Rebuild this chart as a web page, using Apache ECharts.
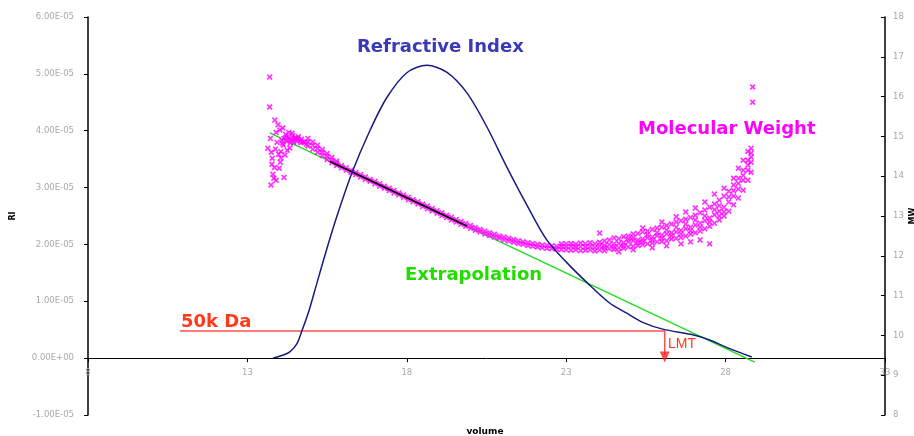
<!DOCTYPE html>
<html>
<head>
<meta charset="utf-8">
<script src="https://cdn.jsdelivr.net/npm/echarts@6/dist/echarts.min.js"></script>
<style>
  html, body { margin: 0; padding: 0; background: #fff; }
  #chart { width: 914px; height: 436px; }
</style>
</head>
<body>
<div id="chart"></div>
<script>
// refractive index trace, RI in units of 1e-5
const riVolume = [13.80, 14.11, 14.33, 14.55, 14.71, 14.93, 15.18, 15.49, 15.81, 16.28, 16.84,
  17.37, 18.00, 18.63, 19.25, 19.88, 20.51, 21.13, 21.76, 22.39, 23.02, 23.67, 24.36, 24.90,
  25.40, 26.03, 26.97, 27.50, 28.03, 28.82];
const riValues = [0, 0.05, 0.11, 0.25, 0.48, 0.83, 1.32, 1.92, 2.50, 3.26, 4.00,
  4.58, 5.02, 5.15, 5.03, 4.67, 4.07, 3.37, 2.70, 2.08, 1.68, 1.32, 0.97, 0.79,
  0.63, 0.51, 0.41, 0.32, 0.19, 0.02];

// molecular weight points: [volume, weight, weight, ...]
const mwRows = [
  [13.64, 14.70], [13.70, 16.49, 15.74], [13.72, 14.95], [13.75, 14.60], [13.77, 14.30],
  [13.74, 13.78], [13.78, 14.45], [13.80, 14.05], [13.83, 13.95], [13.85, 14.22],
  [13.86, 15.41], [13.90, 15.10, 13.90], [13.93, 14.85], [13.96, 15.29], [13.98, 14.55],
  [14.00, 14.20], [14.02, 15.16], [14.05, 14.46, 14.62], [14.08, 14.90], [14.11, 15.21],
  [14.13, 14.78], [14.15, 14.95, 13.97], [14.18, 14.53], [14.20, 15.05], [14.23, 14.88],
  [14.25, 14.65], [14.27, 14.96], [14.30, 15.10], [14.33, 14.71], [14.36, 14.92],
  [14.39, 14.91], [14.42, 15.02], [14.45, 14.85], [14.48, 14.95], [14.52, 14.96],
  [14.55, 14.88], [14.60, 14.99], [14.65, 14.90], [14.70, 14.93], [14.75, 14.86],
  [14.80, 14.86], [14.85, 14.80], [14.10, 14.82], [14.22, 14.98], [14.35, 14.83],
  [14.40, 15.08], [14.58, 14.94], [14.68, 14.84], [13.88, 14.68], [14.03, 14.35],
  [14.90, 14.86, 14.76, 14.95], [15.05, 14.78, 14.68, 14.86], [15.20, 14.70, 14.60, 14.78],
  [15.35, 14.60, 14.52, 14.67], [15.50, 14.50, 14.42, 14.57], [15.65, 14.40, 14.34, 14.47],
  [15.80, 14.33, 14.27, 14.38], [15.95, 14.27, 14.21], [16.10, 14.21, 14.15],
  [16.25, 14.15, 14.10], [16.40, 14.09, 14.04], [16.55, 14.04, 13.98], [16.70, 13.98, 13.92],
  [16.85, 13.92, 13.87], [17.00, 13.87, 13.81], [17.15, 13.81, 13.75], [17.30, 13.75, 13.70],
  [17.45, 13.70, 13.64], [17.60, 13.64, 13.58], [17.75, 13.58, 13.53], [17.90, 13.53, 13.47],
  [18.05, 13.47, 13.41], [18.20, 13.41, 13.36], [18.35, 13.36, 13.30], [18.50, 13.30, 13.24],
  [18.65, 13.25, 13.18], [18.80, 13.19, 13.13], [18.95, 13.13, 13.07], [19.10, 13.08, 13.01],
  [19.25, 13.02, 12.96], [19.40, 12.97, 12.90], [19.55, 12.91, 12.85], [19.70, 12.86, 12.79],
  [19.85, 12.81, 12.74], [20.00, 12.76, 12.69], [20.15, 12.71, 12.64], [20.30, 12.66, 12.60],
  [20.45, 12.62, 12.55], [20.60, 12.58, 12.51], [20.75, 12.54, 12.47], [20.90, 12.50, 12.44],
  [21.05, 12.47, 12.40], [21.20, 12.44, 12.37], [21.35, 12.41, 12.34], [21.50, 12.38, 12.31],
  [21.65, 12.35, 12.29], [21.80, 12.33, 12.26], [21.95, 12.31, 12.24], [22.10, 12.29, 12.22],
  [22.25, 12.27, 12.20], [22.40, 12.26, 12.19], [22.55, 12.25, 12.18], [22.70, 12.24, 12.17],
  [22.85, 12.24, 12.16, 12.30], [23.00, 12.23, 12.15, 12.30], [23.15, 12.24, 12.14, 12.31],
  [23.30, 12.22, 12.15, 12.29], [23.45, 12.23, 12.13, 12.32], [23.60, 12.22, 12.14, 12.30],
  [23.75, 12.24, 12.15, 12.33], [23.90, 12.21, 12.12, 12.30], [24.05, 12.25, 12.15, 12.34, 12.57],
  [24.20, 12.26, 12.13, 12.37, 12.20], [24.35, 12.28, 12.18, 12.40], [24.50, 12.30, 12.16, 12.45, 12.23],
  [24.65, 12.31, 12.20, 12.43, 12.10], [24.80, 12.33, 12.19, 12.48, 12.26], [24.95, 12.35, 12.22, 12.50, 12.42],
  [25.10, 12.38, 12.24, 12.55, 12.15, 12.46], [25.25, 12.40, 12.26, 12.56, 12.33], [25.40, 12.42, 12.28, 12.60, 12.70, 12.35],
  [25.55, 12.45, 12.30, 12.62, 12.53], [25.70, 12.47, 12.32, 12.66, 12.20, 12.40], [25.85, 12.50, 12.35, 12.70, 12.58],
  [26.00, 12.52, 12.36, 12.72, 12.85, 12.44], [26.15, 12.55, 12.38, 12.76, 12.25, 12.65], [26.30, 12.58, 12.42, 12.80, 12.50],
  [26.45, 12.60, 12.44, 12.85, 12.98, 12.72], [26.60, 12.64, 12.46, 12.88, 12.30, 12.55], [26.75, 12.68, 12.50, 12.92, 13.10, 12.80],
  [26.90, 12.72, 12.54, 12.96, 12.35, 12.63], [27.05, 12.77, 12.58, 13.02, 13.20, 12.90], [27.20, 12.82, 12.62, 13.08, 12.40, 12.72],
  [27.35, 12.88, 12.68, 13.15, 13.35, 13.00], [27.50, 12.95, 12.74, 13.22, 12.30, 12.85], [27.65, 13.03, 12.82, 13.30, 13.55, 13.16],
  [27.80, 13.12, 12.90, 13.40, 13.00, 13.26], [27.95, 13.22, 13.00, 13.50, 13.70, 13.10], [28.10, 13.35, 13.12, 13.62, 13.48],
  [28.25, 13.50, 13.28, 13.78, 13.95, 13.64], [28.40, 13.68, 13.45, 13.95, 14.20, 13.82], [28.55, 13.90, 13.65, 14.15, 14.40, 14.02],
  [28.70, 14.15, 13.90, 14.40, 14.62, 14.28], [28.80, 14.35, 14.10, 14.58, 14.70, 14.48], [28.85, 15.86, 16.24]
];

// fitted line and its extrapolation (right axis)
const fitVolume = [15.59, 19.88];
const fitWeight = [14.37, 12.75];
const extraVolume = [13.70, 28.91];
const extraWeight = [15.09, 9.33];

// 50k Da cut-off marker
const cutVolume = [10.88, 26.09, 26.09];
const cutWeight = [10.11, 10.11, 9.52];
const arrowPoint = [26.09, 9.46];

const xTicks = { min: 8, max: 33, step: 5 };
const riTicks = { min: -1, max: 6, step: 1 };
const mwTicks = { min: 8, max: 18, step: 1 };

const mwPoints = [];
mwRows.forEach(function (row) {
  for (let i = 1; i < row.length; i++) mwPoints.push([row[0], row[i]]);
});
const zip = (a, b) => a.map((v, i) => [v, b[i]]);

const crossSymbol = 'path://M0,2L2,0L5,3L8,0L10,2L7,5L10,8L8,10L5,7L2,10L0,8L3,5Z';
const tickGrey = '#a8a8a8';
const labelFont = 'DejaVu Sans, sans-serif';
const noteFont = 'bold 18px DejaVu Sans, sans-serif';

function riLabel(v) {
  if (Math.abs(v) < 1e-9) return '0.00E+00';
  return v.toFixed(2) + 'E-05';
}

const chart = echarts.init(document.getElementById('chart'));
// zero of the RI axis sits 1/7 of the plot height above the bottom
const plotTop = 17, plotBottom = 21, plotHeight = 436 - plotTop - plotBottom;
const zeroLift = plotHeight * (0 - riTicks.min) / (riTicks.max - riTicks.min);

chart.setOption({
  backgroundColor: '#fff',
  animation: false,
  textStyle: { fontFamily: labelFont },
  grid: { left: 88, right: 29, top: plotTop, bottom: plotBottom, outerBoundsMode: 'none' },
  xAxis: {
    type: 'value',
    min: xTicks.min, max: xTicks.max, interval: xTicks.step,
    offset: -zeroLift,
    axisLine: { onZero: false, lineStyle: { color: '#000', width: 1 } },
    axisTick: { show: true, length: 4, lineStyle: { color: '#000' } },
    axisLabel: { color: tickGrey, fontSize: 8.5, margin: 10 },
    splitLine: { show: false }
  },
  yAxis: [
    {
      type: 'value', position: 'left',
      min: riTicks.min, max: riTicks.max, interval: riTicks.step,
      name: 'RI', nameLocation: 'middle', nameRotate: 90, nameGap: 71,
      nameTextStyle: { color: '#000', fontSize: 8, fontWeight: 'bold' },
      axisLine: { show: true, lineStyle: { color: '#000', width: 1.5 } },
      axisTick: { show: true, length: 4, lineStyle: { color: '#000' } },
      axisLabel: { color: tickGrey, fontSize: 8.5, margin: 14, formatter: riLabel },
      splitLine: { show: false }
    },
    {
      type: 'value', position: 'right',
      min: mwTicks.min, max: mwTicks.max, interval: mwTicks.step,
      name: 'MW', nameLocation: 'middle', nameRotate: 90, nameGap: 24,
      nameMoveOverlap: false,
      nameTextStyle: { color: '#000', fontSize: 8, fontWeight: 'bold' },
      axisLine: { show: true, lineStyle: { color: '#000', width: 1.5 } },
      axisTick: { show: true, inside: true, length: 4, lineStyle: { color: '#000' } },
      axisLabel: { color: tickGrey, fontSize: 8.5, margin: 8 },
      splitLine: { show: false }
    }
  ],
  series: [
    {
      name: 'Extrapolation', type: 'line', yAxisIndex: 1, z: 2,
      symbol: 'none', data: zip(extraVolume, extraWeight),
      lineStyle: { color: '#22dd22', width: 1.5 }
    },
    {
      name: 'Molecular Weight', type: 'scatter', yAxisIndex: 1, z: 3,
      symbol: crossSymbol, symbolSize: 6, data: mwPoints,
      itemStyle: { color: '#ff00ff' }
    },
    {
      name: 'Fit', type: 'line', yAxisIndex: 1, z: 4,
      symbol: 'none', data: zip(fitVolume, fitWeight),
      lineStyle: { color: '#000', width: 1.5 }
    },
    {
      name: '50k Da', type: 'line', yAxisIndex: 1, z: 4,
      symbol: 'none', data: zip(cutVolume, cutWeight),
      lineStyle: { color: '#ff5050', width: 1.5 }
    },
    {
      name: 'LMT', type: 'scatter', yAxisIndex: 1, z: 4,
      symbol: 'triangle', symbolRotate: 180, symbolSize: [10, 11],
      data: [arrowPoint], itemStyle: { color: '#ff2020' }
    },
    {
      name: 'Refractive Index', type: 'line', yAxisIndex: 0, z: 5,
      smooth: 0.3, symbol: 'none', data: zip(riVolume, riValues),
      lineStyle: { color: '#1a1a80', width: 1.5 }
    }
  ],
  graphic: [
    { type: 'text', x: 357, y: 47, style: { text: 'Refractive Index', fill: '#3a3ab8', font: 'bold 18px DejaVu Sans, sans-serif', verticalAlign: 'middle' } },
    { type: 'text', x: 638, y: 129, style: { text: 'Molecular Weight', fill: '#ff00ff', font: noteFont, verticalAlign: 'middle' } },
    { type: 'text', x: 405, y: 275, style: { text: 'Extrapolation', fill: '#22dd00', font: noteFont, verticalAlign: 'middle' } },
    { type: 'text', x: 181, y: 322, style: { text: '50k Da', fill: '#ff3a1a', font: noteFont, verticalAlign: 'middle' } },
    { type: 'text', x: 668, y: 344, style: { text: 'LMT', fill: '#ff3a1a', font: '14px Liberation Sans, Arial, sans-serif', verticalAlign: 'middle' } },
    { type: 'text', x: 485, y: 432, style: { text: 'volume', fill: '#000', font: 'bold 9px DejaVu Sans, sans-serif', align: 'center', verticalAlign: 'middle' } }
  ]
});
</script>
</body>
</html>
